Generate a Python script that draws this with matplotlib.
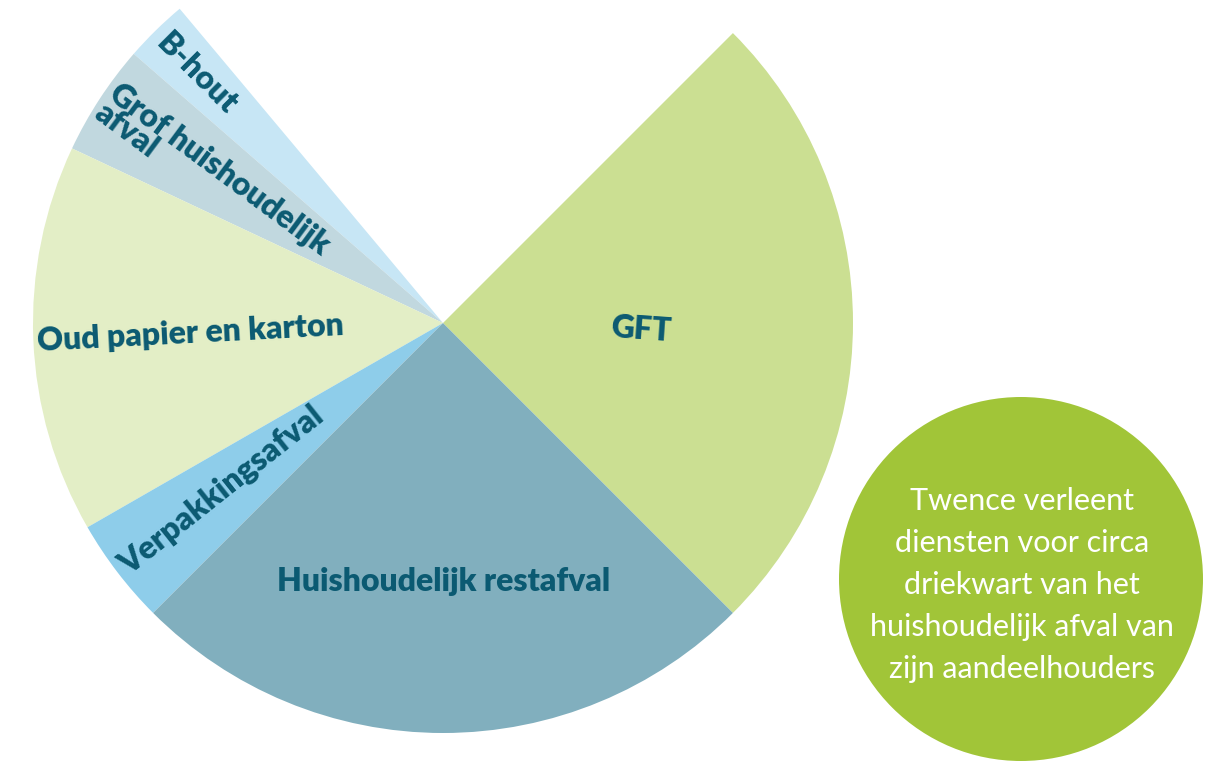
import matplotlib
matplotlib.use('Agg')
import matplotlib.pyplot as plt
from matplotlib.patches import Circle

# share of household waste (percent of a full circle), gap = not served by Twence
categories = ['GFT', 'gap', 'B-hout', 'Grof huishoudelijk\nafval', 'Oud papier en karton',
              'Verpakkingsafval', 'Huishoudelijk restafval']
shares = [25.0, 23.6, 2.5, 4.4, 15.3, 4.2, 25.0]
colors = ['#cbdf92', 'none', '#c7e6f5', '#c1d8df', '#e3eec6', '#8ecdea', '#81afbe']

note = 'Twence verleent\ndiensten voor circa\ndriekwart van het\nhuishoudelijk afval van\nzijn aandeelhouders'

TXT = '#0b5a72'
FONT = ['Lato', 'DejaVu Sans']


def main():
    fig = plt.figure(figsize=(12.15, 7.61), dpi=100)
    ax = fig.add_axes([0, 0, 1, 1])
    wedges, _ = ax.pie(shares, colors=colors, startangle=-45, counterclock=True,
                       center=(443, 438), radius=410,
                       wedgeprops=dict(linewidth=0))
    wedges[1].set_visible(False)
    ax.set_xlim(0, 1215)
    ax.set_ylim(0, 761)
    ax.set_aspect('equal')
    ax.axis('off')

    # labels: (text, x, y, rotation)
    labels = [
        ('GFT', 641, 431, -4),
        ('Huishoudelijk restafval', 444, 179, 0),
        ('Oud papier en karton', 190, 428, 3),
        ('Verpakkingsafval', 222, 271, 38.5),
        ('B-hout', 197, 687, -45),
    ]
    for t, x, y, r in labels:
        ax.text(x, y, t, ha='center', va='center', rotation=r, rotation_mode='anchor',
                fontsize=23, fontweight='heavy', color=TXT, family=FONT)
    ax.text(212, 582, categories[3], ha='center', va='center', rotation=-36.5,
            rotation_mode='anchor', multialignment='left', linespacing=0.8,
            fontsize=23, fontweight='heavy', color=TXT, family=FONT)

    ax.add_patch(Circle((1021, 182), 182, color='#a1c538', linewidth=0))
    ax.text(1022, 176, note, ha='center', va='center', color='white',
            fontsize=22, linespacing=1.6, family=FONT)

    fig.savefig('out.png', dpi=100)


if __name__ == '__main__':
    main()
